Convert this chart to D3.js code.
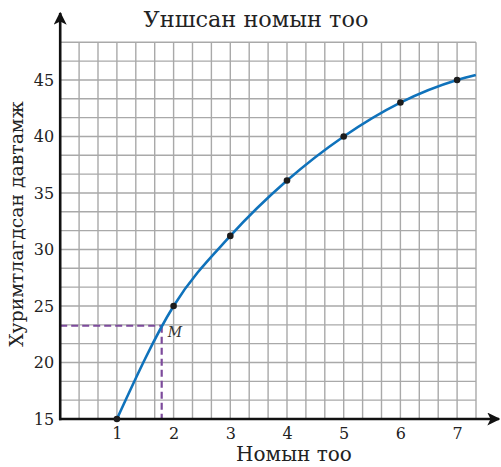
<!DOCTYPE html>
<html>
<head>
<meta charset="utf-8">
<script src="https://cdn.jsdelivr.net/npm/d3@7"></script>
<style>
  html, body { margin: 0; padding: 0; background: #fff; }
</style>
</head>
<body>
<svg id="chart" width="501" height="467"></svg>
<script>
// Cumulative frequency of books read
const bookCounts = [1, 2, 3, 4, 5, 6, 7];
const cumulativeFreq = [15, 25, 31.2, 36.1, 40, 43, 45];
// the curve continues to the edge of the grid
const tailX = [7.33];
const tailY = [45.45];
// marked point M
const pointM = [1.79, 23.25];
const xTicks = [1, 2, 3, 4, 5, 6, 7];
const yTicks = [15, 20, 25, 30, 35, 40, 45];

const FONT = "'DejaVu Serif', 'Liberation Serif', serif";

const svg = d3.select("#chart");

const x = d3.scaleLinear().domain([0, 22 / 3]).range([60.2, 476]);
const y = d3.scaleLinear().domain([15, 15 + 20 * 5 / 3]).range([419, 42.3]);

// grid: cells are 1/3 of a book wide and 5/3 units high
const gx = d3.range(0, 23).map(i => i / 3);
const gy = d3.range(0, 21).map(i => 15 + i * 5 / 3);
const grid = svg.append("g").attr("stroke", "#a9a9a9").attr("stroke-width", 1.4);
grid.selectAll("line.v").data(gx).join("line")
  .attr("x1", d => x(d)).attr("x2", d => x(d))
  .attr("y1", y(gy[0])).attr("y2", y(gy[gy.length - 1]));
grid.selectAll("line.h").data(gy).join("line")
  .attr("y1", d => y(d)).attr("y2", d => y(d))
  .attr("x1", x(0)).attr("x2", x(gx[gx.length - 1]));

// dashed guides to M
const guides = svg.append("g").attr("stroke", "#7d4b9c").attr("stroke-width", 2.2)
  .attr("stroke-dasharray", "7,4").attr("fill", "none");
guides.append("line").attr("x1", x(0)).attr("x2", x(pointM[0]))
  .attr("y1", y(pointM[1])).attr("y2", y(pointM[1]));
guides.append("line").attr("x1", x(pointM[0])).attr("x2", x(pointM[0]))
  .attr("y1", y(pointM[1])).attr("y2", y(15));

// axes with arrows
const defs = svg.append("defs");
defs.append("marker").attr("id", "arrow").attr("viewBox", "0 0 10 10")
  .attr("refX", 9).attr("refY", 5).attr("markerWidth", 5).attr("markerHeight", 5)
  .attr("markerUnits", "strokeWidth").attr("orient", "auto")
  .append("path").attr("d", "M0,0 L10,5 L0,10 L2.5,5 Z").attr("fill", "#111");

svg.append("line").attr("x1", x(0) - 1.2).attr("x2", 499)
  .attr("y1", y(15)).attr("y2", y(15))
  .attr("stroke", "#111").attr("stroke-width", 2.6).attr("marker-end", "url(#arrow)");
svg.append("line").attr("x1", x(0)).attr("x2", x(0))
  .attr("y1", y(15) + 1.2).attr("y2", 13)
  .attr("stroke", "#111").attr("stroke-width", 2.6).attr("marker-end", "url(#arrow)");

// tick labels via axis generators (no tick marks)
const xAxis = svg.append("g").attr("transform", `translate(0,${y(15)})`)
  .call(d3.axisBottom(x).tickValues(xTicks).tickSize(0).tickPadding(9).tickFormat(d3.format("d")));
const yAxis = svg.append("g").attr("transform", `translate(${x(0)},0)`)
  .call(d3.axisLeft(y).tickValues(yTicks).tickSize(0).tickPadding(6).tickFormat(d3.format("d")));
[xAxis, yAxis].forEach(a => {
  a.select(".domain").remove();
  a.attr("font-family", FONT).attr("font-size", 16);
  a.selectAll("text").attr("fill", "#222");
});

// curve
const pts = bookCounts.map((b, i) => [b, cumulativeFreq[i]]).concat([[tailX[0], tailY[0]]]);
const line = d3.line().x(d => x(d[0])).y(d => y(d[1])).curve(d3.curveMonotoneX);
svg.append("path").datum(pts).attr("d", line)
  .attr("fill", "none").attr("stroke", "#0f72bb").attr("stroke-width", 2.6);

svg.append("g").selectAll("circle").data(bookCounts).join("circle")
  .attr("cx", d => x(d)).attr("cy", (d, i) => y(cumulativeFreq[i])).attr("r", 3.3)
  .attr("fill", "#1c1c1c");

svg.append("text").attr("x", x(pointM[0]) + 6).attr("y", y(pointM[1]) + 11)
  .attr("font-family", FONT)
  .attr("font-style", "italic").attr("font-size", 14).attr("fill", "#333").text("M");

// titles
svg.append("text").attr("x", 256).attr("y", 27).attr("text-anchor", "middle")
  .attr("font-family", FONT)
  .attr("font-size", 22.4).attr("fill", "#222").text("Уншсан номын тоо");
svg.append("text").attr("x", 294).attr("y", 461).attr("text-anchor", "middle")
  .attr("font-family", FONT)
  .attr("font-size", 20).attr("fill", "#222").text("Номын тоо");
svg.append("text").attr("transform", "translate(23,224) rotate(-90)").attr("text-anchor", "middle")
  .attr("font-family", FONT)
  .attr("font-size", 18.8).attr("fill", "#222").text("Хуримтлагдсан давтамж");
</script>
</body>
</html>
